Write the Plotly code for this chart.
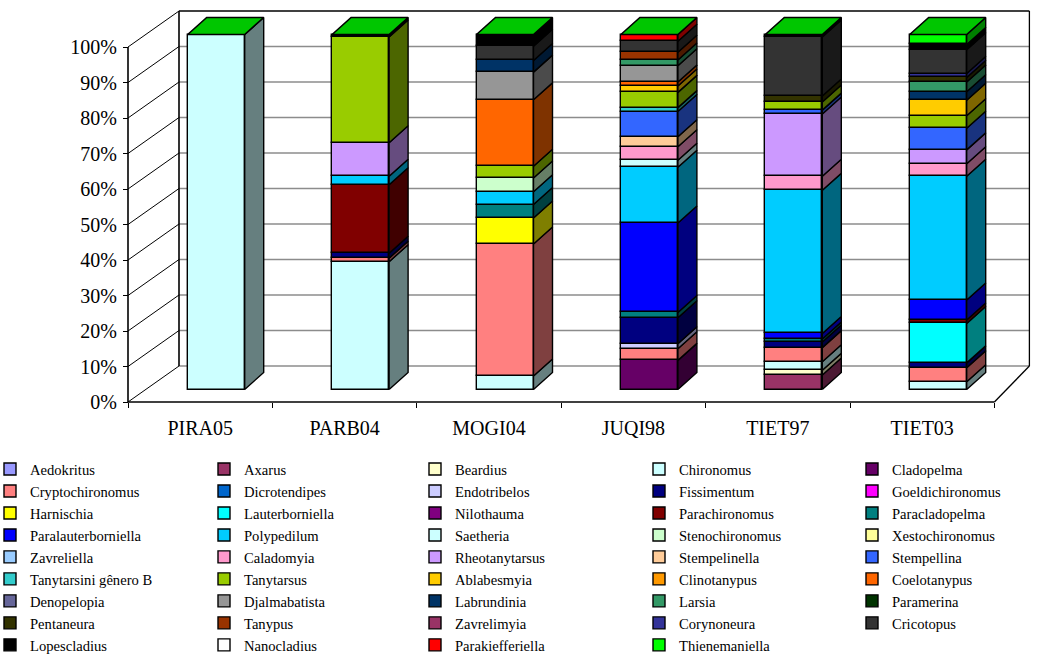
import plotly.graph_objects as go

# ---------------------------------------------------------------- data
sites = ["PIRA05", "PARB04", "MOGI04", "JUQI98", "TIET97", "TIET03"]

taxa = [
    "Aedokritus", "Axarus", "Beardius", "Chironomus", "Cladopelma",
    "Cryptochironomus", "Dicrotendipes", "Endotribelos", "Fissimentum", "Goeldichironomus",
    "Harnischia", "Lauterborniella", "Nilothauma", "Parachironomus", "Paracladopelma",
    "Paralauterborniella", "Polypedilum", "Saetheria", "Stenochironomus", "Xestochironomus",
    "Zavreliella", "Caladomyia", "Rheotanytarsus", "Stempelinella", "Stempellina",
    "Tanytarsini gênero B", "Tanytarsus", "Ablabesmyia", "Clinotanypus", "Coelotanypus",
    "Denopelopia", "Djalmabatista", "Labrundinia", "Larsia", "Paramerina",
    "Pentaneura", "Tanypus", "Zavrelimyia", "Corynoneura", "Cricotopus",
    "Lopescladius", "Nanocladius", "Parakiefferiella", "Thienemaniella",
]

taxa_colors = [
    "#9999FF", "#993366", "#FFFFCC", "#CCFFFF", "#660066",
    "#FF8080", "#0066CC", "#CCCCFF", "#000080", "#FF00FF",
    "#FFFF00", "#00FFFF", "#800080", "#800000", "#008080",
    "#0000FF", "#00CCFF", "#CCFFFF", "#CCFFCC", "#FFFF99",
    "#99CCFF", "#FF99CC", "#CC99FF", "#FFCC99", "#3366FF",
    "#33CCCC", "#99CC00", "#FFCC00", "#FF9900", "#FF6600",
    "#666699", "#969696", "#003366", "#339966", "#003300",
    "#333300", "#993300", "#993366", "#333399", "#333333",
    "#000000", "#FFFFFF", "#FF0000", "#00FF00",
]

# relative abundance (%) of each taxon per site (taxa not listed are absent)
pira05 = {"Chironomus": 100.0}
parb04 = {
    "Chironomus": 36.0, "Cryptochironomus": 1.0, "Fissimentum": 1.4,
    "Parachironomus": 19.3, "Polypedilum": 2.4, "Rheotanytarsus": 9.4,
    "Tanytarsus": 29.8, "Lopescladius": 0.7,
}
mogi04 = {
    "Chironomus": 3.8, "Cryptochironomus": 37.2, "Harnischia": 7.3,
    "Paracladopelma": 3.8, "Polypedilum": 3.6, "Stenochironomus": 3.9,
    "Tanytarsus": 3.3, "Coelotanypus": 18.7, "Djalmabatista": 7.8,
    "Labrundinia": 3.3, "Cricotopus": 4.0, "Lopescladius": 3.3,
}
juqi98 = {
    "Cladopelma": 8.2, "Cryptochironomus": 3.3, "Endotribelos": 1.4,
    "Fissimentum": 7.3, "Paracladopelma": 1.5, "Paralauterborniella": 25.2,
    "Polypedilum": 15.7, "Saetheria": 2.0, "Caladomyia": 3.8,
    "Stempelinella": 2.8, "Stempellina": 7.1, "Tanytarsini gênero B": 1.1,
    "Tanytarsus": 4.3, "Ablabesmyia": 1.8, "Coelotanypus": 1.1,
    "Djalmabatista": 4.6, "Larsia": 1.6, "Tanypus": 2.2,
    "Cricotopus": 3.1, "Parakiefferiella": 1.9,
}
tiet97 = {
    "Axarus": 4.1, "Beardius": 1.3, "Chironomus": 2.4, "Cryptochironomus": 4.0,
    "Fissimentum": 1.6, "Paracladopelma": 0.8, "Paralauterborniella": 1.6,
    "Polypedilum": 40.3, "Caladomyia": 4.0, "Rheotanytarsus": 17.5,
    "Stempellina": 1.1, "Tanytarsus": 2.3, "Pentaneura": 1.7,
    "Cricotopus": 16.6, "Lopescladius": 0.7,
}
tiet03 = {
    "Chironomus": 2.2, "Cryptochironomus": 3.9, "Fissimentum": 1.4,
    "Lauterborniella": 11.1, "Parachironomus": 1.0, "Paralauterborniella": 5.6,
    "Polypedilum": 34.9, "Caladomyia": 3.5, "Rheotanytarsus": 3.9,
    "Stempellina": 6.1, "Tanytarsus": 3.5, "Ablabesmyia": 4.4,
    "Labrundinia": 2.4, "Larsia": 2.7, "Pentaneura": 1.3,
    "Corynoneura": 1.1, "Cricotopus": 6.7, "Lopescladius": 1.5,
    "Thienemaniella": 2.8,
}
site_values = [pira05, parb04, mogi04, juqi98, tiet97, tiet03]

y_ticks = list(range(0, 101, 10))
y_tick_text = [f"{v}%" for v in y_ticks]

# ---------------------------------------------------------------- geometry (pixels)
W, H = 1044, 656
CAT_PX = 144.4          # width of one category on the front plane
PCT_PX = 3.55           # height of 1 % on the value axis
FRONT_LEFT_PX = 128     # x of the value axis
FRONT_ZERO_PX = 402     # y of 0 % on the front plane
PLOT_L, PLOT_R, PLOT_T, PLOT_B = 118, 1042, 4, 408

WALL_DX_L, WALL_DX_R, WALL_DY = 51, 35, 36   # depth of the walls / floor
BAR_FRONT_DX, BAR_FRONT_DY = 16, 12.5        # bar front face set back from the front plane
BAR_DEPTH_DX, BAR_DEPTH_DY = 19, 17          # bar depth
BAR_WIDTH_PX = 57
EDGE_W = 1.4

FONT = "Liberation Serif"


def ux(px):
    return px / CAT_PX


def uy(px):
    return px / PCT_PX


def x_at(px):
    return -0.5 + (px - FRONT_LEFT_PX) / CAT_PX


def y_at(px):
    return (FRONT_ZERO_PX - px) / PCT_PX


def shade(hex_color, f):
    h = hex_color.lstrip("#")
    r, g, b = (int(h[i:i + 2], 16) for i in (0, 2, 4))
    return f"rgb({int(r * f)},{int(g * f)},{int(b * f)})"


def wall_shift(xf):
    t = (xf + 0.5) / len(sites)
    return ux(WALL_DX_L + (WALL_DX_R - WALL_DX_L) * t), uy(WALL_DY)


n = len(sites)
x_lo, x_hi = -0.5, n - 0.5
bar_x = [i + ux(BAR_FRONT_DX) for i in range(n)]
bar_w = ux(BAR_WIDTH_PX)
face_dy = uy(BAR_FRONT_DY)
ddx, ddy = ux(BAR_DEPTH_DX), uy(BAR_DEPTH_DY)

fig = go.Figure()

# ---------------------------------------------------------------- stacked bars
cum = [0.0] * n
side_traces = []
for k, (name, col) in enumerate(zip(taxa, taxa_colors)):
    vals = [site_values[i].get(name, 0.0) for i in range(n)]
    base = [cum[i] + face_dy for i in range(n)]
    legend_id = "legend" if k % 5 == 0 else f"legend{k % 5 + 1}"
    fig.add_trace(go.Bar(
        x=bar_x,
        y=[v if v > 0 else None for v in vals],
        base=base,
        width=bar_w,
        name=name,
        legend=legend_id,
        marker=dict(color=col, line=dict(color="black", width=EDGE_W)),
        hovertemplate=name + ": %{y:.1f}%<extra></extra>",
    ))
    sx, sy = [], []
    for i, v in enumerate(vals):
        if v > 0:
            xr = bar_x[i] + bar_w / 2
            y0, y1 = base[i], base[i] + v
            sx += [xr, xr + ddx, xr + ddx, xr, xr, None]
            sy += [y0, y0 + ddy, y1 + ddy, y1, y0, None]
    if sx:
        side_traces.append(go.Scatter(
            x=sx, y=sy, mode="lines", fill="toself",
            fillcolor=shade(col, 0.5),
            line=dict(color="black", width=EDGE_W),
            showlegend=False, hoverinfo="skip",
        ))
    cum = [c + v for c, v in zip(cum, vals)]

for tr in side_traces:
    fig.add_trace(tr)

# top faces take the colour of the last series
tx, ty = [], []
for i in range(n):
    xl, xr = bar_x[i] - bar_w / 2, bar_x[i] + bar_w / 2
    yt = cum[i] + face_dy
    tx += [xl, xr, xr + ddx, xl + ddx, xl, None]
    ty += [yt, yt, yt + ddy, yt + ddy, yt, None]
fig.add_trace(go.Scatter(
    x=tx, y=ty, mode="lines", fill="toself",
    fillcolor=shade(taxa_colors[-1], 0.78),
    line=dict(color="black", width=1.6),
    showlegend=False, hoverinfo="skip",
))

# ---------------------------------------------------------------- walls and floor
shapes = []


def seg(x0, y0, x1, y1, color="black", width=1):
    shapes.append(dict(type="line", xref="x", yref="y", x0=x0, y0=y0, x1=x1, y1=y1,
                       line=dict(color=color, width=width), layer="below"))


ldx, wdy = wall_shift(x_lo)
rdx, _ = wall_shift(x_hi)
for v in y_ticks:
    # back wall gridline
    seg(x_lo + ldx, v + wdy, x_hi + rdx, v + wdy,
        color="black" if v == 100 else "#8c8c8c", width=1.3)
    # side wall gridline
    seg(x_lo, v, x_lo + ldx, v + wdy, color="black", width=1)
seg(x_lo, 0, x_lo, 100, width=1.6)                       # value axis line
seg(x_lo + ldx, wdy, x_lo + ldx, 100 + wdy, width=1.6)   # back-left edge
seg(x_hi + rdx, wdy, x_hi + rdx, 100 + wdy, width=1.3)   # back-right edge
seg(x_lo, 0, x_hi, 0, width=1.3)                         # floor front edge
seg(x_hi, 0, x_hi + rdx, wdy, width=1.3)                 # floor right edge

# ---------------------------------------------------------------- layout
plot_w = PLOT_R - PLOT_L
plot_h = PLOT_B - PLOT_T

legend_text_px = [30, 244, 455, 679, 892]
LEG_TOP_PX = 453
legends = {}
for j, tx_px in enumerate(legend_text_px):
    key = "legend" if j == 0 else f"legend{j + 1}"
    legends[key] = dict(
        xref="paper", yref="paper",
        x=(tx_px - 40 - PLOT_L) / plot_w, y=(PLOT_B - LEG_TOP_PX) / plot_h,
        xanchor="left", yanchor="top",
        orientation="v", traceorder="normal", tracegroupgap=0,
        bgcolor="rgba(0,0,0,0)", borderwidth=0,
        font=dict(family=FONT, size=14.6, color="black"),
    )

fig.update_layout(
    width=W, height=H,
    margin=dict(l=PLOT_L, r=W - PLOT_R, t=PLOT_T, b=H - PLOT_B, autoexpand=False),
    paper_bgcolor="white", plot_bgcolor="white",
    barmode="overlay", bargap=0,
    shapes=shapes,
    showlegend=True,
    font=dict(family=FONT, color="black"),
    xaxis=dict(
        range=[x_at(PLOT_L), x_at(PLOT_R)],
        anchor="free", position=(PLOT_B - FRONT_ZERO_PX) / plot_h,
        tickmode="array", tickvals=list(range(n)), ticktext=sites,
        ticks="", ticklabelstandoff=12,
        tickfont=dict(family=FONT, size=20, color="black"),
        minor=dict(tickmode="array", tickvals=[x_lo + i for i in range(n + 1)],
                   ticks="outside", ticklen=5, tickcolor="black", tickwidth=1,
                   showgrid=False),
        showgrid=False, zeroline=False, showline=False, automargin=False,
        fixedrange=True,
    ),
    yaxis=dict(
        range=[y_at(PLOT_B), y_at(PLOT_T)],
        anchor="free", position=(FRONT_LEFT_PX - PLOT_L) / plot_w,
        tickmode="array", tickvals=y_ticks, ticktext=y_tick_text,
        ticks="outside", ticklen=5, tickcolor="black", tickwidth=1,
        ticklabelstandoff=2,
        tickfont=dict(family=FONT, size=20, color="black"),
        showgrid=False, zeroline=False, showline=False, automargin=False,
        fixedrange=True,
    ),
    **legends,
)

fig.write_html("out.html")
